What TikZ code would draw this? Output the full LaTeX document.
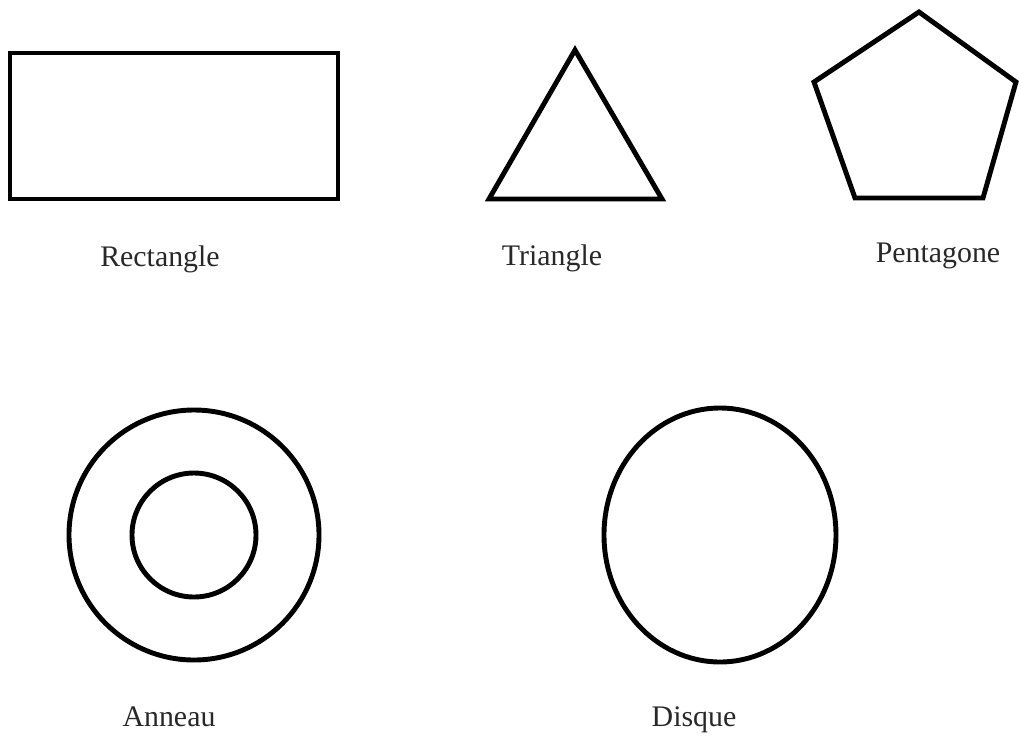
\documentclass[tikz,border=0pt]{standalone}
\usepackage{fontspec}
\setmainfont{Liberation Serif}
\usepackage{tikz}
\usetikzlibrary{positioning}
\definecolor{TraitColor}{RGB}{0, 0, 0}
\definecolor{TexteColor}{RGB}{40, 40, 40}
\tikzset{
  contour/.style={draw=TraitColor, line width=2.8pt, line join=miter},
  legende/.style={anchor=base, inner sep=0pt, text=TexteColor, font=\fontsize{17}{20}\selectfont}
}

\begin{document}
\begin{tikzpicture}[x=0.02cm, y=-0.02cm]
    \useasboundingbox (0,0) rectangle (1019,735);
    % Rectangle
    \draw[contour] (10,53) rectangle (338,199);
    % Triangle
    \draw[contour] (575,50) -- (662,199) -- (489,199) -- cycle;
    % Pentagone
    \draw[contour] (919,12) -- (1016,82) -- (983,198) -- (855,198) -- (814,82) -- cycle;
    % Anneau
    \draw[contour] (194,535) circle[radius=125];
    \draw[contour] (194,535) circle[radius=62];
    % Disque
    \draw[contour] (720,535) ellipse[x radius=116, y radius=127];
    % legendes
    \node[legende] (rect) at (160,266) {Rectangle};
    \node[legende] (tri) at (552,265) {Triangle};
    \node[legende] (penta) at (938,262) {Pentagone};
    \node[legende] (anneau) at (169,726) {Anneau};
    \node[legende] (disque) at (694,726) {Disque};
\end{tikzpicture}
\end{document}
